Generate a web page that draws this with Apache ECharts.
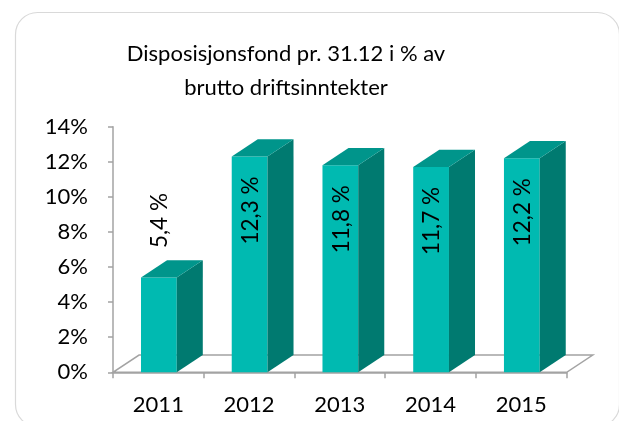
<!DOCTYPE html>
<html>
<head>
<meta charset="utf-8">
<script src="https://cdn.jsdelivr.net/npm/echarts@6/dist/echarts.min.js"></script>
<style>
html,body{margin:0;padding:0;background:#fff;}
#c{width:619px;height:421px;}
</style>
</head>
<body>
<div id="c"></div>
<script>
const titleText = 'Disposisjonsfond pr. 31.12 i % av\nbrutto driftsinntekter';
const categories = ['2011', '2012', '2013', '2014', '2015'];
const values = [5.4, 12.3, 11.8, 11.7, 12.2];
const labels = ['5,4 %', '12,3 %', '11,8 %', '11,7 %', '12,2 %'];
const yTicks = [0, 2, 4, 6, 8, 10, 12, 14];

const FONT = 'Lato';
const C_FRONT = '#00BAB1';
const C_TOP = '#00958B';
const C_SIDE = '#007A70';
const C_AXIS = '#a3a3a3';

const chart = echarts.init(document.getElementById('c'), null, {renderer: 'canvas'});

function depth(bandW) { return [bandW * 0.287, -bandW * 0.19]; }

const option = {
  animation: false,
  backgroundColor: '#fff',
  title: {
    text: titleText,
    left: 281, top: 32, textAlign: 'center',
    textStyle: {fontFamily: FONT, fontSize: 22, fontWeight: 'normal', color: '#000', lineHeight: 34}
  },
  graphic: [{
    type: 'rect', left: 13, top: 10, z: -10,
    shape: {width: 604, height: 414, r: 22},
    style: {fill: 'none', stroke: '#d9d9d9', lineWidth: 1.2}
  }],
  grid: {left: 113, right: 52.3, top: 126.7, bottom: 48.7},
  xAxis: {
    type: 'category', data: categories,
    axisLine: {show: true, lineStyle: {color: C_AXIS, width: 1.5}},
    axisTick: {show: true, length: 6, lineStyle: {color: C_AXIS, width: 1.5}},
    axisLabel: {fontFamily: FONT, fontSize: 22, color: '#000', margin: 22}
  },
  yAxis: {
    type: 'value', min: 0, max: 14, interval: 2,
    splitLine: {show: false},
    axisLine: {show: true, lineStyle: {color: C_AXIS, width: 1.5}},
    axisTick: {show: true, length: 5, lineStyle: {color: C_AXIS, width: 1.5}},
    axisLabel: {fontFamily: FONT, fontSize: 22, color: '#000', margin: 25,
      formatter: v => (yTicks.indexOf(v) >= 0 ? v + '%' : '')}
  },
  series: [
    {
      type: 'custom', silent: true,
      data: [[0, 0]],
      renderItem: function (params, api) {
        const bandW = api.size([1, 0])[0];
        const d = depth(bandW);
        const l = api.coord([0, 0]);
        const r = api.coord([categories.length - 1, 0]);
        const x0 = l[0] - bandW / 2, x1 = r[0] + bandW / 2, y = l[1];
        return {
          type: 'polygon',
          shape: {points: [[x0, y], [x1, y], [x1 + d[0], y + d[1]], [x0 + d[0], y + d[1]]]},
          style: {fill: '#fff', stroke: C_AXIS, lineWidth: 1.5}
        };
      }
    },
    {
      type: 'custom', silent: true,
      data: values.map((v, i) => [i, v]),
      renderItem: function (params, api) {
        const i = api.value(0), v = api.value(1);
        const base = api.coord([i, 0]);
        const top = api.coord([i, v]);
        const bandW = api.size([1, 0])[0];
        const d = depth(bandW);
        const bw = bandW * 0.394;
        const x = base[0] - bw / 2 + 0.5;
        const yT = top[1], yB = base[1];
        const h = yB - yT;
        const inside = h > 120;
        const cx = x + bw / 2 + 1;
        const cy = inside ? yT + 54 : yT - 57;
        return {
          type: 'group',
          children: [
            {type: 'rect', shape: {x: x, y: yT, width: bw, height: h}, style: {fill: C_FRONT}},
            {type: 'polygon', shape: {points: [[x + bw, yT], [x + bw + d[0], yT + d[1]], [x + bw + d[0], yB + d[1]], [x + bw, yB]]}, style: {fill: C_SIDE}},
            {type: 'polygon', shape: {points: [[x, yT], [x + d[0], yT + d[1]], [x + bw + d[0], yT + d[1]], [x + bw, yT]]}, style: {fill: C_TOP}},
            {type: 'text', x: cx, y: cy, rotation: Math.PI / 2,
              style: {text: labels[i], fontFamily: FONT, fontSize: 22.5, fill: '#000', align: 'center', verticalAlign: 'middle'}}
          ]
        };
      }
    }
  ]
};
chart.setOption(option);
</script>
</body>
</html>
